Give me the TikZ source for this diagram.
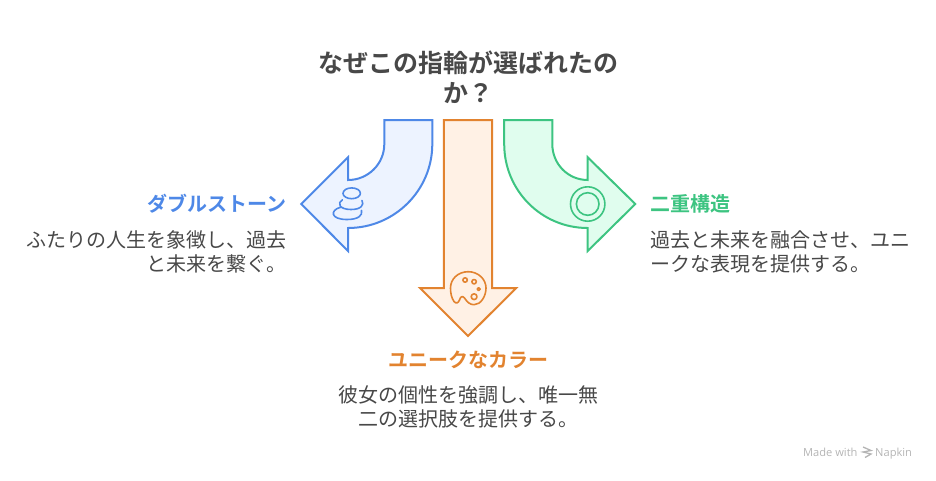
\documentclass[tikz,border=0pt]{standalone}
\usepackage{fontspec}
\newfontfamily\jp{Noto Sans CJK JP}
\newfontfamily\jpb{Noto Sans CJK JP Bold}
\setmainfont{Open Sans}
\definecolor{bl}{HTML}{4E88E7}\definecolor{blf}{HTML}{EDF3FF}
\definecolor{og}{HTML}{E2832F}\definecolor{ogf}{HTML}{FFF1E5}
\definecolor{gr}{HTML}{3DC481}\definecolor{grf}{HTML}{E0FDEE}
\definecolor{tx}{HTML}{484848}\definecolor{wm}{HTML}{B4B4B4}
\tikzset{
 arrowshape/.style={line width=2pt,line join=miter,miter limit=10},
 iconline/.style={line width=1.6pt,line cap=round,line join=round},
 titletext/.style={inner sep=0,text=tx,align=center,font=\fontsize{25}{30}\jpb},
 headtext/.style={inner sep=0,font=\fontsize{20}{24}\jpb},
 bodytext/.style={inner sep=0,text=tx,font=\fontsize{20}{24.5}\jp},
 marktext/.style={inner sep=0,anchor=base west,text=wm,font=\fontsize{11.1}{12}\selectfont},
}
\begin{document}
\begin{tikzpicture}[x=1pt,y=-1pt]
\useasboundingbox (0,0) rectangle (936,480);
% arrows
\draw[arrowshape,bl,fill=blf] (384.3,120) -- (432.3,120) -- (432.3,144)
  .. controls (432.3,190.4) and (394.4,228) .. (348,228) -- (348,251) -- (301.3,204) -- (348,157.3) -- (348,180)
  .. controls (368,180) and (384.3,164) .. (384.3,144) -- cycle;
\draw[arrowshape,og,fill=ogf] (443.9,120) -- (492,120) -- (492,288) -- (516.3,288) -- (468,336) -- (420,288) -- (443.9,288) -- cycle;
\draw[arrowshape,gr,fill=grf] (552.3,120) -- (504.2,120) -- (504.2,144)
  .. controls (504.2,190.4) and (541.3,228) .. (587.7,228) -- (587.7,251) -- (635.3,204) -- (587.7,157.3) -- (587.7,180)
  .. controls (568,180) and (552.3,164) .. (552.3,144) -- cycle;
% stones
\draw[iconline,bl] (351.7,193.3) ellipse[x radius=8.7,y radius=5.4];
\draw[iconline,bl] (342.3,199.8) .. controls (337,203) and (339,209.5) .. (351,209.5) .. controls (361,209.5) and (364.5,205) .. (362,200.5);
\draw[iconline,bl] (340.5,207.3) .. controls (330,210) and (330,219.5) .. (347,219.5) .. controls (358,219.5) and (363,215.5) .. (361.5,210.5);
% target
\draw[iconline,gr] (587.7,204) circle[radius=17.2];
\draw[iconline,gr] (587.7,204) circle[radius=11.3];
% palette
\draw[iconline,og] (468.3,271.7) .. controls (458,271.7) and (450.5,279) .. (450.5,288)
  .. controls (450.5,293) and (451.5,298) .. (454,301.5)
  .. controls (456,304) and (458.5,303) .. (459.5,300)
  .. controls (460.5,296.5) and (462.5,295.5) .. (464.5,298)
  .. controls (467,302) and (470,304.7) .. (474,304.7)
  .. controls (481,304.7) and (486,296) .. (486,288)
  .. controls (486,279) and (478,271.7) .. (468.3,271.7) -- cycle;
\draw[iconline,og] (465.1,280) circle[radius=2.2];
\draw[iconline,og] (474.1,281.7) circle[radius=2.2];
\draw[iconline,og] (478.7,289.1) circle[radius=1.5];
\draw[iconline,og] (474.1,296.7) circle[radius=2.9];
% texts
\node[titletext,anchor=center] (title) at (468,77) {なぜこの指輪が選ばれたの\\か？};
\node[headtext,text=bl,anchor=east] (lh) at (286.5,204) {ダブルストーン};
\node[bodytext,align=right,anchor=east] (lb) at (286.5,252) {ふたりの人生を象徴し、過去\\と未来を繋ぐ。};
\node[headtext,text=gr,anchor=west] (rh) at (650,204) {二重構造};
\node[bodytext,align=left,anchor=west] (rb) at (650,252) {過去と未来を融合させ、ユニ\\ークな表現を提供する。};
\node[headtext,text=og,anchor=center] (ch) at (468,360) {ユニークなカラー};
\node[bodytext,align=center,anchor=center] (cb) at (468,407) {彼女の個性を強調し、唯一無\\二の選択肢を提供する。};
% watermark
\node[marktext] (wm1) at (803,456) {Made with};
\node[marktext] (wm2) at (875,456) {Napkin};
\draw[wm,line width=1.3pt] (863,447) -- (871,450.5) -- (863,452) -- (871,454) -- (865,457.5);
\end{tikzpicture}
\end{document}
